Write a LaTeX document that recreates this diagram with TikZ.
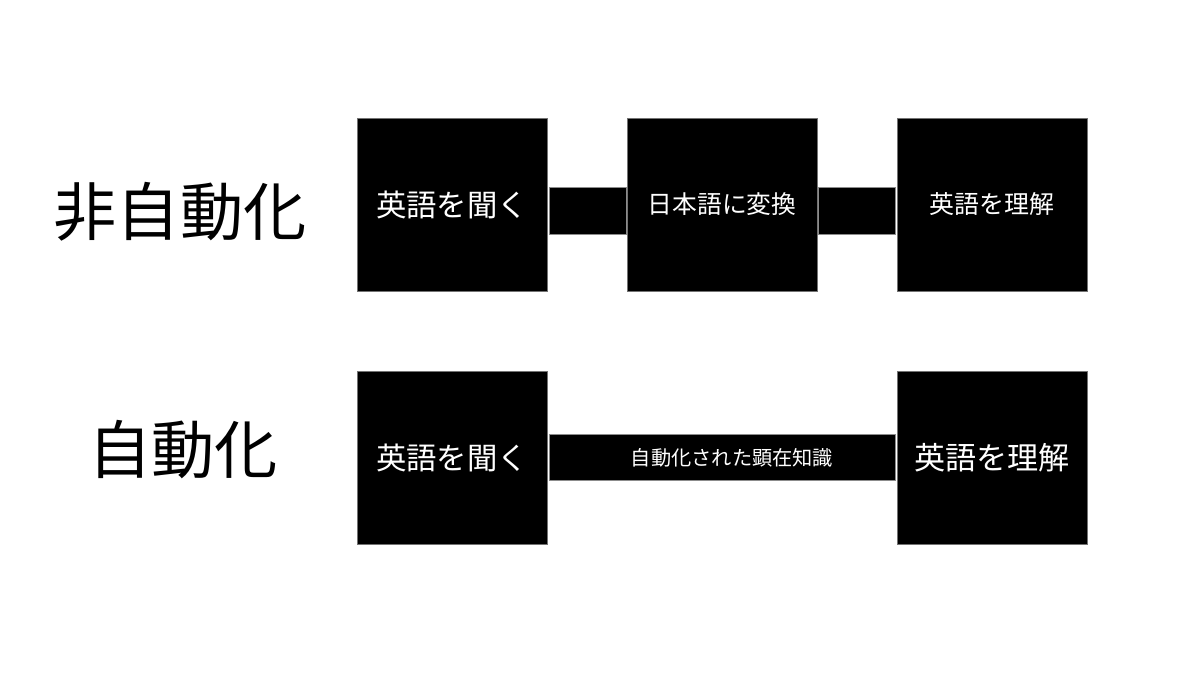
\documentclass[tikz,border=0pt]{standalone}
\usepackage{fontspec}
\setmainfont{Noto Sans CJK JP}
\usepackage{tikz}
\usetikzlibrary{positioning,calc}

\tikzset{
    stagebox/.style={rectangle, fill=black, draw=black!55, line width=0.4pt, text=white,
        minimum width=3.8cm, minimum height=3.46cm, inner sep=0pt},
    linkbar/.style={rectangle, fill=black, draw=black!45, line width=0.4pt, text=white,
        minimum height=0.93cm, inner sep=0pt},
    rowlabel/.style={font=\fontsize{36}{38}\selectfont}
}

\begin{document}
\begin{tikzpicture}[x=0.02cm, y=-0.02cm]
    \useasboundingbox (0, 0) rectangle (1200, 675);

    % non-automated
    \node [rowlabel] (manual) at (180, 212) {非自動化};
    \node [stagebox, font=\fontsize{17.3}{19}\selectfont] (hearA) at (452, 204.5) {英語を聞く};
    \node [stagebox, font=\fontsize{14.1}{16}\selectfont] (convert) at (722, 204.5) {日本語に変換};
    \node [stagebox, font=\fontsize{14.2}{16}\selectfont] (graspA) at (992, 204.5) {英語を理解};
    \node [linkbar, minimum width=1.54cm] (linkA) at (587.5, 211) {};
    \node [linkbar, minimum width=1.54cm] (linkB) at (857, 211) {};

    % automated
    \node [rowlabel] (auto) at (183, 450) {自動化};
    \node [stagebox, font=\fontsize{17.3}{19}\selectfont] (hearB) at (452, 457.5) {英語を聞く};
    \node [stagebox, font=\fontsize{17.7}{19}\selectfont] (graspB) at (992, 457.5) {英語を理解};
    \node [linkbar, minimum width=6.92cm] (linkC)
        at ($(hearB.east)!0.5!(graspB.west)$) {};
    \node [text=white, font=\fontsize{11.5}{13}\selectfont] (linkCtext)
        at ([xshift=0.2cm]linkC.center) {自動化された顕在知識};
\end{tikzpicture}
\end{document}
